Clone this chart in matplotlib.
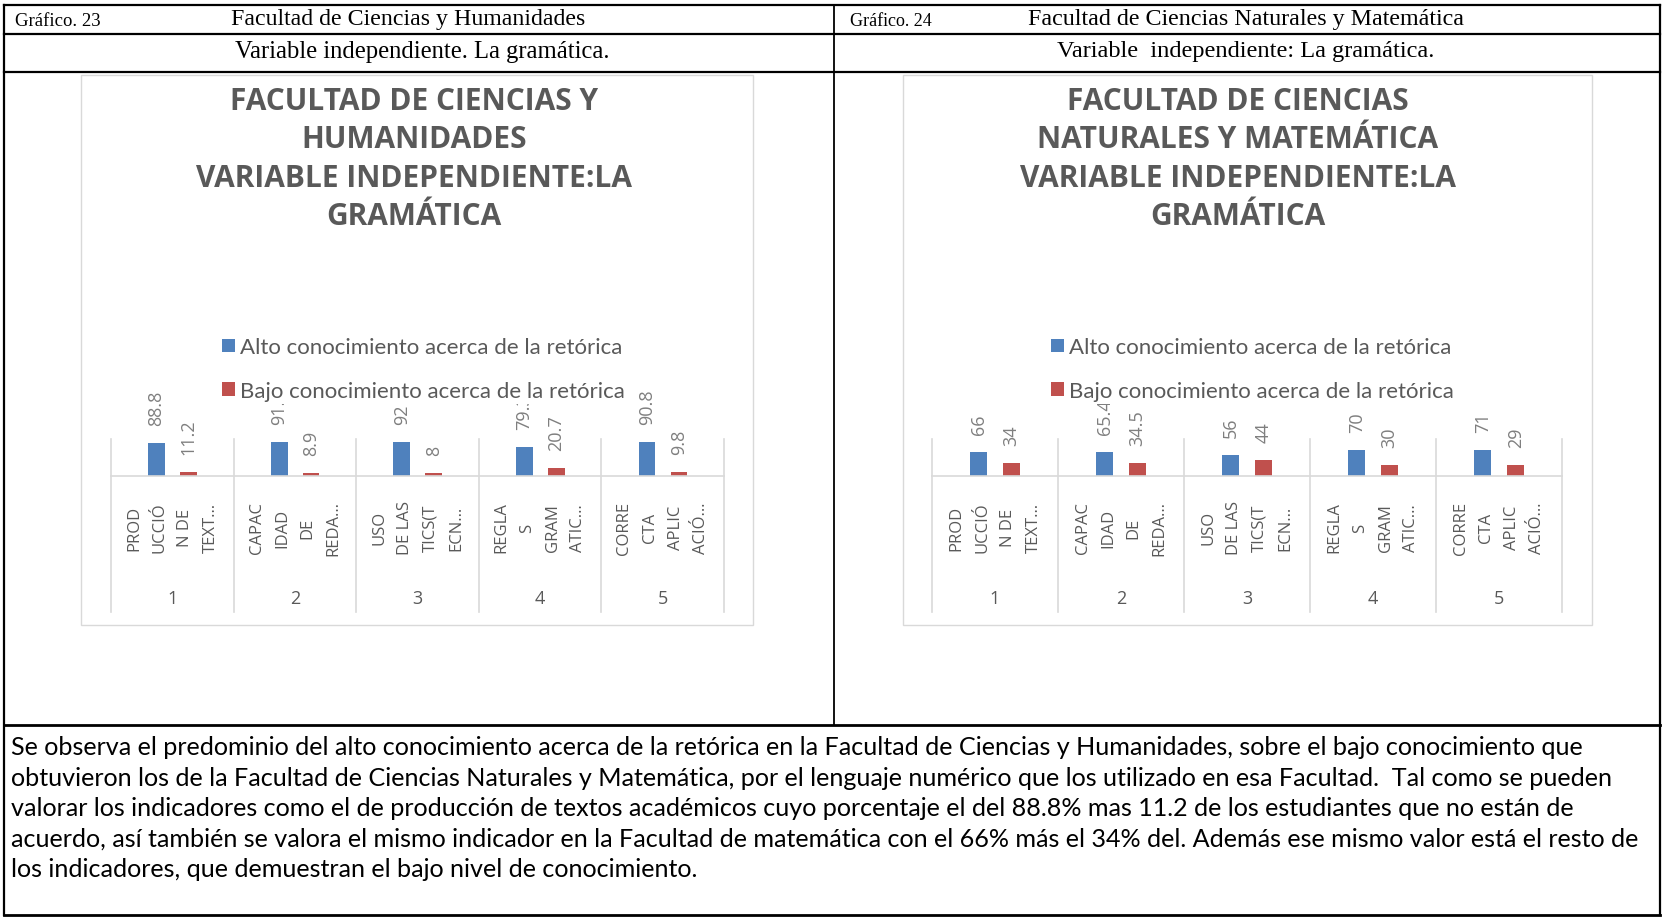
import matplotlib
matplotlib.use("Agg")
from matplotlib import pyplot as plt
from matplotlib.lines import Line2D
from matplotlib.patches import Rectangle
import numpy as np

# datos de los graficos
categorias = ["1", "2", "3", "4", "5"]
etiquetas = ["PROD\nUCCIÓ\nN DE\nTEXT…",
             "CAPAC\nIDAD\nDE\nREDA…",
             "USO\nDE LAS\nTICS(T\nECN…",
             "REGLA\nS\nGRAM\nATIC…",
             "CORRE\nCTA\nAPLIC\nACIÓ…"]
series = ["Alto conocimiento acerca de la retórica",
          "Bajo conocimiento acerca de la retórica"]
alto_ch = [88.8, 91.1, 92, 79.3, 90.8]
bajo_ch = [11.2, 8.9, 8, 20.7, 9.8]
alto_cnm = [66, 65.4, 56, 70, 71]
bajo_cnm = [34, 34.5, 44, 30, 29]

titulo_ch = ["FACULTAD DE CIENCIAS Y", "HUMANIDADES",
             "VARIABLE INDEPENDIENTE:LA", "GRAMÁTICA"]
titulo_cnm = ["FACULTAD DE CIENCIAS", "NATURALES Y MATEMÁTICA",
              "VARIABLE INDEPENDIENTE:LA", "GRAMÁTICA"]

texto = ["Se observa el predominio del alto conocimiento acerca de la retórica en la Facultad de Ciencias y Humanidades, sobre el bajo conocimiento que",
         "obtuvieron los de la Facultad de Ciencias Naturales y Matemática, por el lenguaje numérico que los utilizado en esa Facultad.  Tal como se pueden",
         "valorar los indicadores como el de producción de textos académicos cuyo porcentaje el del 88.8% mas 11.2 de los estudiantes que no están de",
         "acuerdo, así también se valora el mismo indicador en la Facultad de matemática con el 66% más el 34% del. Además ese mismo valor está el resto de",
         "los indicadores, que demuestran el bajo nivel de conocimiento."]

W, H = 1663, 920
AZUL = "#4f81bd"
ROJO = "#c0504d"
GRIS = "#d9d9d9"
TXT = "#595959"

fig = plt.figure(figsize=(W / 100, H / 100), dpi=100)
renderer = fig.canvas.get_renderer()


def fx(x):
    return x / W


def fy(y):
    return 1 - y / H


def linea(x0, y0, x1, y1, lw=1.6, color="black"):
    fig.add_artist(Line2D([fx(x0), fx(x1)], [fy(y0), fy(y1)], color=color,
                          lw=lw, transform=fig.transFigure))


def ajustar(t, ancho):
    # escala la fuente para que el texto ocupe el ancho medido
    w = t.get_window_extent(renderer).width
    t.set_fontsize(t.get_fontsize() * ancho / w)


#=============================================================================
# tabla del documento
linea(4, 6, 1660, 6)
linea(4, 35, 1660, 35)
linea(4, 73, 1660, 73)
linea(4, 726, 1660, 726, lw=2)
linea(4, 916, 1660, 916, lw=2)
linea(4, 6, 4, 916)
linea(1660, 6, 1660, 916)
linea(834, 6, 834, 726, lw=1.3)

serif = "Liberation Serif"
fig.text(fx(15), fy(21), "Gráfico. 23", family=serif, fontsize=13.5, va="center")
fig.text(fx(850), fy(21), "Gráfico. 24", family=serif, fontsize=13, va="center")
t = fig.text(fx(408), fy(20), "Facultad de Ciencias y Humanidades", family=serif,
             fontsize=16, ha="center", va="center")
ajustar(t, 354)
t = fig.text(fx(1246), fy(20), "Facultad de Ciencias Naturales y Matemática",
             family=serif, fontsize=16, ha="center", va="center")
ajustar(t, 435)
t = fig.text(fx(422), fy(52), "Variable independiente. La gramática.", family=serif,
             fontsize=16, ha="center", va="center")
ajustar(t, 374)
t = fig.text(fx(1246), fy(52), "Variable  independiente: La gramática.",
             family=serif, fontsize=16, ha="center", va="center")
ajustar(t, 377)

cuerpo = []
for i, linea_txt in enumerate(texto):
    cuerpo.append(fig.text(fx(11), fy(748 + i * 30.3), linea_txt, family="Lato",
                           fontsize=16, va="center", color="black"))
ajustar(cuerpo[3], 1639)
for t in cuerpo:
    t.set_fontsize(cuerpo[3].get_fontsize())


#=============================================================================
def grafico(left, right, caja, centro, titulo, leg_x, alto, bajo):
    fig.add_artist(Rectangle((fx(caja[0]), fy(caja[1])), (caja[2] - caja[0]) / W,
                             (caja[1] - 76) / H, fill=False, edgecolor=GRIS, lw=1,
                             transform=fig.transFigure))
    for i, linea_tit in enumerate(titulo):
        fig.text(fx(centro), fy(102 + i * 38.3), linea_tit, family="Open Sans",
                 weight="bold", fontsize=21.5, color=TXT, ha="center", va="center")

    ax = fig.add_axes([fx(left), fy(477), (right - left) / W, 37 / H])
    x = np.arange(len(categorias))
    b1 = ax.bar(x + 0.372, alto, 0.136, color=AZUL, zorder=2)
    b2 = ax.bar(x + 0.632, bajo, 0.136, color=ROJO, zorder=2)
    ax.set_xlim(0, len(categorias))
    ax.set_ylim(0, 100)
    ax.set_axis_off()

    tr = ax.get_xaxis_transform()
    ax.plot([0, len(categorias)], [0, 0], transform=tr, color=GRIS, lw=1.2,
            clip_on=False)
    abajo = -(613 - 477) / 37
    for k in range(len(categorias) + 1):
        ax.plot([k, k], [1, abajo], transform=tr, color=GRIS, lw=1.2, clip_on=False)

    for i in range(len(categorias)):
        ax.text(i + 0.5, -(528 - 477) / 37, etiquetas[i], transform=tr, rotation=90,
                ha="center", va="center", multialignment="center", linespacing=1.8,
                family="Open Sans", fontsize=12, color=TXT)
        ax.text(i + 0.5, -(599 - 477) / 37, categorias[i], transform=tr,
                ha="center", va="center", family="Open Sans", fontsize=13, color=TXT)

    for barras, vals in [(b1, alto), (b2, bajo)]:
        for rect, v in zip(barras, vals):
            ax.annotate("{:g}".format(v), (rect.get_x() + rect.get_width() / 2, v),
                        xytext=(0, 13), textcoords="offset points", rotation=90,
                        ha="center", va="bottom", family="Open Sans", fontsize=13,
                        color="#7f7f7f", zorder=3)

    leg = ax.legend([b1, b2], series, loc="upper left",
                    bbox_to_anchor=(fx(leg_x), fy(335)), bbox_transform=fig.transFigure,
                    frameon=True, facecolor="white", edgecolor="none", framealpha=1,
                    prop={"family": "Lato", "size": 16}, labelcolor=TXT,
                    handlelength=0.55, handleheight=0.55, handletextpad=0.25,
                    labelspacing=1.05, borderpad=0.15, borderaxespad=0)
    leg.set_zorder(5)
    return ax


grafico(111, 724, (81, 626, 753), 414, titulo_ch, 219, alto_ch, bajo_ch)
grafico(932, 1562, (903, 626, 1592), 1238, titulo_cnm, 1048, alto_cnm, bajo_cnm)

fig.savefig("out.png", dpi=100)
